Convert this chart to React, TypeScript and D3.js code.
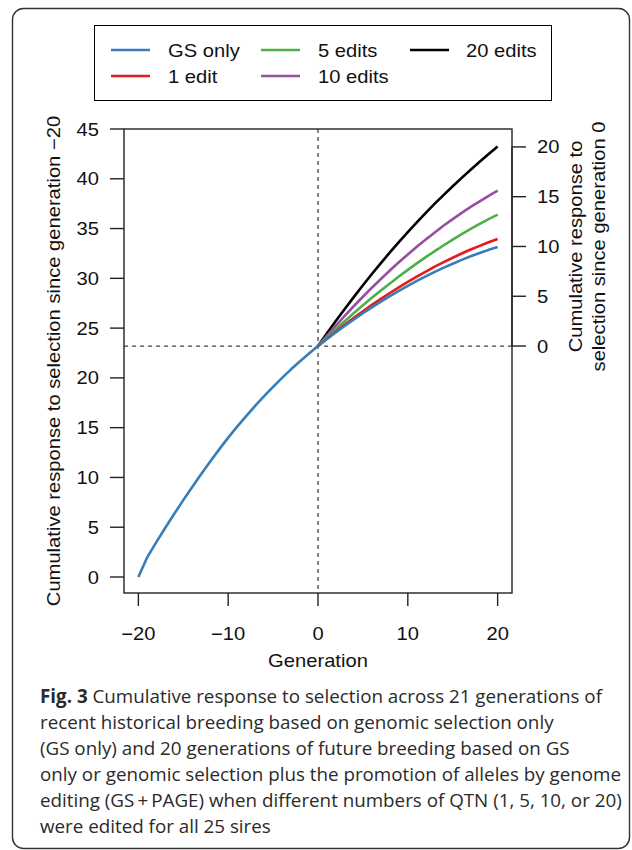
import React from 'react';
import * as d3 from 'd3';

// generations
const histGen = d3.range(-20, 1);
const futGen = d3.range(0, 21);

// cumulative response, historical GS only (gen -20..0)
const histGS = [0, 2.0, 3.5, 4.95, 6.35, 7.72, 9.05, 10.35, 11.6, 12.82, 14.0,
  15.1, 16.16, 17.18, 18.16, 19.1, 20.0, 20.86, 21.68, 22.46, 23.2];

// future breeding (gen 0..20)
const futGS = [23.2, 23.9, 24.58, 25.24, 25.88, 26.49, 27.09, 27.66, 28.21, 28.74, 29.25,
  29.74, 30.2, 30.65, 31.07, 31.47, 31.85, 32.21, 32.54, 32.86, 33.15];
const fut1 = [23.2, 23.94, 24.66, 25.36, 26.04, 26.69, 27.33, 27.94, 28.53, 29.1, 29.65,
  30.18, 30.68, 31.17, 31.63, 32.07, 32.49, 32.89, 33.26, 33.62, 33.95];
const fut5 = [23.2, 24.06, 24.9, 25.72, 26.51, 27.29, 28.04, 28.78, 29.49, 30.18, 30.85,
  31.5, 32.13, 32.74, 33.32, 33.89, 34.43, 34.96, 35.46, 35.94, 36.4];
const fut10 = [23.2, 24.25, 25.26, 26.25, 27.22, 28.15, 29.06, 29.93, 30.78, 31.61, 32.4,
  33.17, 33.9, 34.61, 35.3, 35.95, 36.58, 37.17, 37.74, 38.29, 38.8];
const fut20 = [23.2, 24.48, 25.73, 26.95, 28.14, 29.3, 30.43, 31.53, 32.6, 33.64, 34.65,
  35.63, 36.58, 37.5, 38.39, 39.25, 40.09, 40.91, 41.71, 42.49, 43.25];

const baseline = 23.2;

const seriesNames = ['GS only', '1 edit', '5 edits', '10 edits', '20 edits'];
const seriesColors = ['#377EB8', '#E41A1C', '#4DAF4A', '#984EA3', '#000000'];
const futureValues = [futGS, fut1, fut5, fut10, fut20];

const xTicks = [-20, -10, 0, 10, 20];
const yLeftTicks = [0, 5, 10, 15, 20, 25, 30, 35, 40, 45];
const yRightTicks = [0, 5, 10, 15, 20];

const captionLines = [
  'Cumulative response to selection across 21 generations of',
  'recent historical breeding based on genomic selection only',
  '(GS only) and 20 generations of future breeding based on GS',
  'only or genomic selection plus the promotion of alleles by genome',
  'editing (GS\u2009+\u2009PAGE) when different numbers of QTN (1, 5, 10, or 20)',
  'were edited for all 25 sires',
];

const FONT = '"Liberation Sans", Arial, Helvetica, sans-serif';
const FS = 18;
const SX = 1.12;

// stretched text, R figure font is wider than Arial
const SText = ({ x, y, anchor = 'middle', rot = 0, children }: any) => (
  <text
    transform={`translate(${x},${y})${rot ? ` rotate(${rot})` : ''} scale(${SX},1)`}
    textAnchor={anchor}
    fontFamily={FONT}
    fontSize={FS}
    fill="#111"
  >
    {children}
  </text>
);

const App: React.FC = () => {
  const box = { left: 124, right: 512, top: 129, bottom: 593 };

  const x = d3.scaleLinear().domain([-21.6, 21.6]).range([box.left, box.right]);
  const y = d3.scaleLinear().domain([0, 45]).range([577, 129]);

  const line = d3.line<[number, number]>()
    .x(d => x(d[0]))
    .y(d => y(d[1]));

  const histPts = histGen.map((g, i) => [g, histGS[i]] as [number, number]);

  const legendCols = [
    { lx: 111, tx: 168 },
    { lx: 261, tx: 318 },
    { lx: 410, tx: 466 },
  ];
  const legendRows = [50, 76];
  // R fills legend column-wise with 2 rows
  const legendItems = seriesNames.map((name, i) => ({
    name,
    color: seriesColors[i],
    col: legendCols[Math.floor(i / 2)],
    row: legendRows[i % 2],
  }));

  const drawOrder = [4, 3, 2, 1, 0];

  return (
    <div style={{ position: 'absolute', left: 0, top: 0 }}>
      <svg width={632} height={850} style={{ display: 'block', background: '#fff' }}>
        {/* card frame */}
        <rect x={12.5} y={8.5} width={617} height={840} rx={11} ry={11}
          fill="none" stroke="#333" strokeWidth={1.4} />

        {/* legend */}
        <rect x={94.5} y={25.5} width={457} height={75} fill="none" stroke="#000" strokeWidth={1} />
        {legendItems.map(it => (
          <g key={it.name}>
            <line x1={it.col.lx} x2={it.col.lx + 39} y1={it.row} y2={it.row}
              stroke={it.color} strokeWidth={2.5} />
            <SText x={it.col.tx} y={it.row + 6.5} anchor="start">{it.name}</SText>
          </g>
        ))}

        {/* reference dashed lines */}
        <line x1={x(0)} x2={x(0)} y1={box.top} y2={box.bottom}
          stroke="#444" strokeWidth={1.3} strokeDasharray="4,4" />
        <line x1={box.left} x2={box.right} y1={y(baseline)} y2={y(baseline)}
          stroke="#444" strokeWidth={1.3} strokeDasharray="4,4" />

        {/* curves */}
        {drawOrder.map(i => {
          const pts = futGen.map((g, j) => [g, futureValues[i][j]] as [number, number]);
          return (
            <path key={seriesNames[i]} d={line(pts) || ''} fill="none"
              stroke={seriesColors[i]} strokeWidth={2.6} strokeLinejoin="round" />
          );
        })}
        <path d={line(histPts) || ''} fill="none" stroke={seriesColors[0]}
          strokeWidth={2.6} strokeLinejoin="round" />

        {/* box */}
        <rect x={box.left} y={box.top} width={box.right - box.left} height={box.bottom - box.top}
          fill="none" stroke="#222" strokeWidth={1.4} />

        {/* bottom axis */}
        {xTicks.map(t => (
          <g key={`x${t}`}>
            <line x1={x(t)} x2={x(t)} y1={box.bottom} y2={box.bottom + 13} stroke="#222" strokeWidth={1.4} />
            <SText x={x(t)} y={640}>{t < 0 ? `\u2212${-t}` : `${t}`}</SText>
          </g>
        ))}
        <SText x={x(0)} y={667}>Generation</SText>

        {/* left axis */}
        {yLeftTicks.map(t => (
          <g key={`yl${t}`}>
            <line x1={box.left - 14} x2={box.left} y1={y(t)} y2={y(t)} stroke="#222" strokeWidth={1.4} />
            <SText x={99} y={y(t) + 6.5} anchor="end">{t}</SText>
          </g>
        ))}
        <SText x={60} y={(box.top + box.bottom) / 2} rot={-90}>
          Cumulative response to selection since generation {'\u2212'}20
        </SText>

        {/* right axis (relative to generation 0) */}
        <line x1={box.right} x2={box.right} y1={y(baseline)} y2={y(baseline + 20)} stroke="#222" strokeWidth={1.4} />
        {yRightTicks.map(t => (
          <g key={`yr${t}`}>
            <line x1={box.right} x2={box.right + 14} y1={y(baseline + t)} y2={y(baseline + t)}
              stroke="#222" strokeWidth={1.4} />
            <SText x={537} y={y(baseline + t) + 6.5} anchor="start">{t}</SText>
          </g>
        ))}
        <SText x={582} y={y(baseline + 10)} rot={-90}>Cumulative response to</SText>
        <SText x={605} y={y(baseline + 10)} rot={-90}>selection since generation 0</SText>

        {/* caption */}
        <g fontFamily='"Open Sans", "Noto Sans", sans-serif' fontSize={18.8} fill="#2a2a2a">
          {captionLines.map((ln, i) => (
            <text key={i} x={40} y={703 + i * 26}>
              {i === 0 && <tspan fontWeight="bold">Fig. 3 </tspan>}
              {ln}
            </text>
          ))}
        </g>
      </svg>
    </div>
  );
};

export default App;
